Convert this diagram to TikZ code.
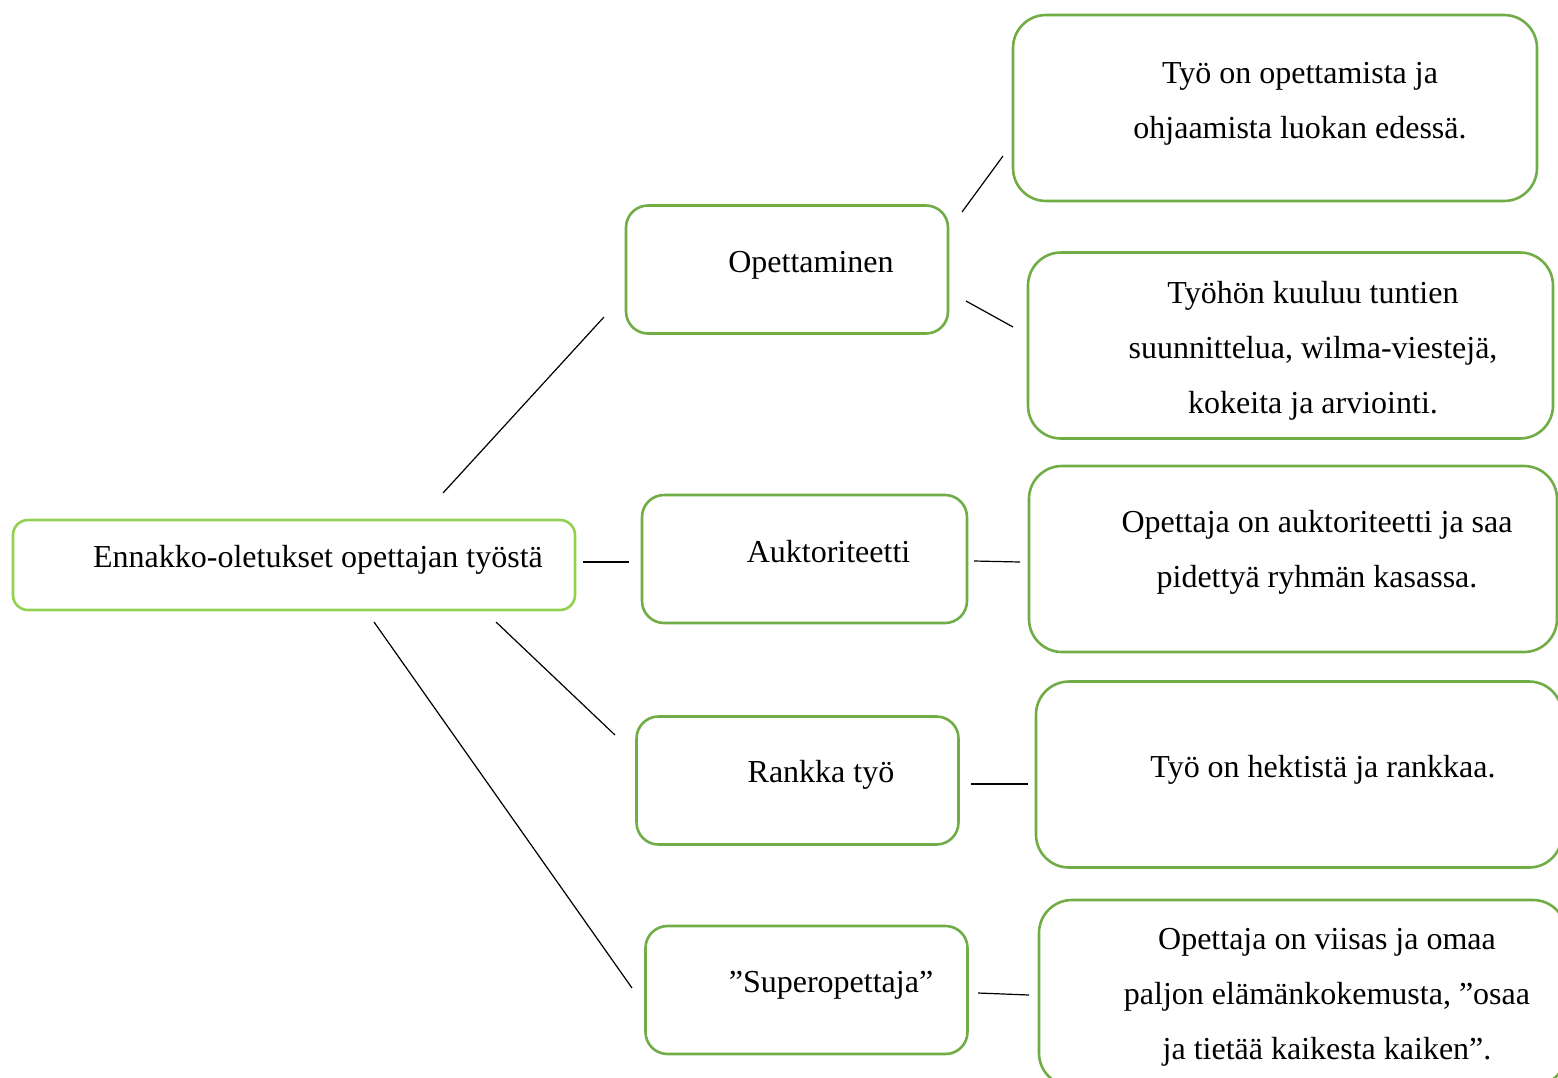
\documentclass[tikz,border=0pt]{standalone}
\usepackage{fontspec}
\setmainfont{Liberation Serif}
\definecolor{leafgreen}{HTML}{70AD47}
\definecolor{rootgreen}{HTML}{92D050}
\begin{document}
\begin{tikzpicture}[x=1pt, y=-1pt,
rootbox/.style={rectangle, rounded corners=15pt, draw=rootgreen, line width=2.6pt, inner sep=0pt},
midbox/.style={rectangle, rounded corners=22pt, draw=leafgreen, line width=2.6pt, inner sep=0pt, minimum width=322pt, minimum height=128pt},
leafbox/.style={rectangle, rounded corners=33pt, draw=leafgreen, line width=2.6pt, inner sep=0pt, minimum width=526pt, minimum height=186pt},
txt/.style={anchor=base, align=center, inner sep=0pt, font=\fontsize{32}{55}\selectfont},
link/.style={line width=1.2pt, black},
]
\useasboundingbox (0,0) rectangle (1558,1077);
\clip (0,0) rectangle (1558,1077);
%boxes
\node[rootbox, minimum width=562pt, minimum height=90pt](root) at (294,565) {};
\node[midbox](op) at (787,269.5) {};
\node[midbox, minimum width=325pt](auk) at (804.5,559) {};
\node[midbox](rank) at (797.5,780.5) {};
\node[midbox](sup) at (806.5,990) {};
\node[leafbox, minimum width=524pt](op1) at (1275,108) {};
\node[leafbox, minimum width=525pt](op2) at (1290.5,345.5) {};
\node[leafbox, minimum width=528pt](auk1) at (1293,559) {};
\node[leafbox](rank1) at (1299,774.5) {};
\node[leafbox, minimum width=527pt](sup1) at (1302.5,993) {};
%texts (base = last line)
\node[txt](root-t) at (318,567) {Ennakko-oletukset opettajan työstä};
\node[txt](op-t) at (811,272) {Opettaminen};
\node[txt](auk-t) at (828.5,562) {Auktoriteetti};
\node[txt](rank-t) at (821,782) {Rankka työ};
\node[txt](sup-t) at (831,992) {”Superopettaja”};
\node[txt](op1-t) at (1300,138) {Työ on opettamista ja\\ohjaamista luokan edessä.};
\node[txt](op2-t) at (1313,413) {Työhön kuuluu tuntien\\suunnittelua, wilma-viestejä,\\kokeita ja arviointi.};
\node[txt](auk1-t) at (1317,587) {Opettaja on auktoriteetti ja saa\\pidettyä ryhmän kasassa.};
\node[txt](rank1-t) at (1323,777) {Työ on hektistä ja rankkaa.};
\node[txt](sup1-t) at (1327,1059) {Opettaja on viisas ja omaa\\paljon elämänkokemusta, ”osaa\\ja tietää kaikesta kaiken”.};
%connector ends
\coordinate (root-op) at (443,493);
\coordinate (op-root) at (604,317);
\coordinate (root-auk) at (583,562);
\coordinate (auk-root) at (629,562);
\coordinate (root-rank) at (496,622);
\coordinate (rank-root) at (615,735);
\coordinate (root-sup) at (374,622);
\coordinate (sup-root) at (632,988);
\coordinate (op-op1) at (962,212);
\coordinate (op1-op) at (1003,156);
\coordinate (op-op2) at (966,301);
\coordinate (op2-op) at (1013,327);
\coordinate (auk-auk1) at (974,561);
\coordinate (auk1-auk) at (1020,562);
\coordinate (rank-rank1) at (971,784);
\coordinate (rank1-rank) at (1028,784);
\coordinate (sup-sup1) at (978,993);
\coordinate (sup1-sup) at (1029,995);
%connections
\draw[link] (root-op) -- (op-root);
\draw[link] (root-auk) -- (auk-root);
\draw[link] (root-rank) -- (rank-root);
\draw[link] (root-sup) -- (sup-root);
\draw[link] (op-op1) -- (op1-op);
\draw[link] (op-op2) -- (op2-op);
\draw[link] (auk-auk1) -- (auk1-auk);
\draw[link] (rank-rank1) -- (rank1-rank);
\draw[link] (sup-sup1) -- (sup1-sup);
\end{tikzpicture}
\end{document}
